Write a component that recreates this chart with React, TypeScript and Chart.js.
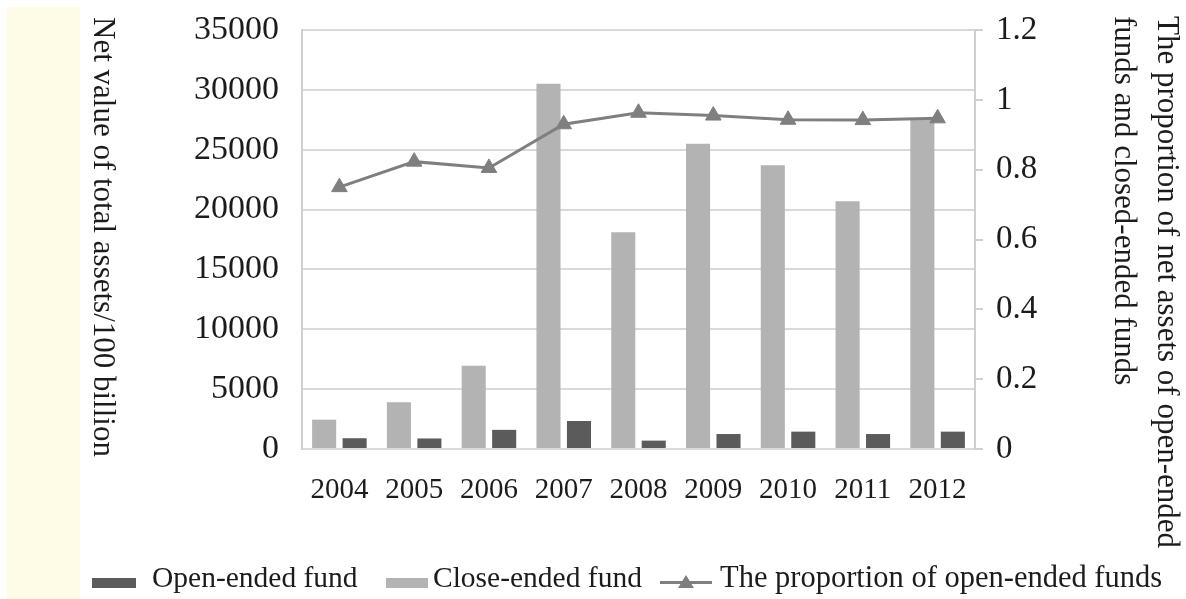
import React, { useEffect, useRef } from 'react';
import { Chart, registerables } from 'chart.js';

Chart.register(...registerables);

// Fund data by year
const years = ['2004', '2005', '2006', '2007', '2008', '2009', '2010', '2011', '2012'];
const openEndedFund = [900, 880, 1600, 2340, 700, 1250, 1450, 1250, 1450];
const closeEndedFund = [2450, 3900, 6950, 30500, 18100, 25500, 23700, 20700, 27500];
const openEndedShare = [0.75, 0.823, 0.805, 0.93, 0.963, 0.955, 0.943, 0.942, 0.947];

const SERIF = '"Liberation Serif", "Times New Roman", Times, serif';
const DARK = '#5b5b5b';
const LIGHT = '#b3b3b3';
const LINE = '#7f7f7f';
const GRID = '#d9d9d9';
const AXIS = '#cfcfcf';
const TEXT = '#1c1c1c';

const legendText: React.CSSProperties = {
  position: 'absolute',
  top: 563,
  fontFamily: SERIF,
  fontSize: 29.5,
  lineHeight: '29px',
  color: TEXT,
  whiteSpace: 'nowrap',
};

export default function App() {
  const canvasRef = useRef<HTMLCanvasElement>(null);

  useEffect(() => {
    const canvas = canvasRef.current;
    if (!canvas) return;
    const chart = new Chart(canvas, {
      type: 'bar',
      data: {
        labels: years,
        datasets: [
          {
            type: 'line',
            label: 'The proportion of open-ended funds',
            data: openEndedShare,
            yAxisID: 'y1',
            borderColor: LINE,
            backgroundColor: LINE,
            borderWidth: 3,
            pointStyle: 'triangle',
            pointRadius: 9,
            pointBorderWidth: 1,
            pointBackgroundColor: LINE,
            pointBorderColor: LINE,
            tension: 0,
          } as any,
          {
            label: 'Close-ended fund',
            data: closeEndedFund,
            backgroundColor: LIGHT,
            yAxisID: 'y',
            categoryPercentage: 0.815,
            barPercentage: 0.79,
          },
          {
            label: 'Open-ended fund',
            data: openEndedFund,
            backgroundColor: DARK,
            yAxisID: 'y',
            categoryPercentage: 0.815,
            barPercentage: 0.79,
          },
        ],
      },
      options: {
        responsive: false,
        animation: false,
        devicePixelRatio: 1,
        layout: { padding: { top: 30, left: 0, right: 0, bottom: 0 } },
        plugins: {
          legend: { display: false },
          tooltip: { enabled: false },
        },
        scales: {
          x: {
            grid: { display: false, drawTicks: false },
            border: { display: false },
            ticks: {
              padding: 24,
              color: TEXT,
              font: { family: SERIF, size: 29 },
            },
            afterFit: (s: any) => {
              s.height = 150;
            },
          },
          y: {
            position: 'left',
            min: 0,
            max: 35000,
            ticks: {
              stepSize: 5000,
              padding: 12,
              color: TEXT,
              font: { family: SERIF, size: 34, lineHeight: 1 },
              callback: (v: any) => String(v),
            },
            grid: {
              color: GRID,
              lineWidth: 2,
              drawTicks: true,
              tickLength: 11,
              tickColor: 'rgba(0,0,0,0)',
            },
            border: { color: AXIS, width: 2 },
            afterFit: (s: any) => {
              s.width = 302;
            },
          },
          y1: {
            position: 'right',
            min: 0,
            max: 1.2,
            ticks: {
              stepSize: 0.2,
              padding: 13,
              color: TEXT,
              font: { family: SERIF, size: 33, lineHeight: 1 },
              callback: (v: any) => String(Number(Number(v).toFixed(1))),
            },
            grid: { drawOnChartArea: false, drawTicks: true, tickLength: 8, color: AXIS, lineWidth: 2 },
            border: { color: AXIS, width: 2 },
            afterFit: (s: any) => {
              s.width = 211;
            },
          },
        },
      } as any,
    });
    return () => chart.destroy();
  }, []);

  return (
    <div
      style={{
        position: 'fixed',
        left: 0,
        top: 0,
        width: 1186,
        height: 599,
        background: '#ffffff',
        overflow: 'hidden',
      }}
    >
      <div
        style={{
          position: 'absolute',
          left: 7,
          top: 7,
          width: 73,
          height: 592,
          background: '#fefbe7',
        }}
      />
      <canvas
        ref={canvasRef}
        width={1186}
        height={599}
        style={{ position: 'absolute', left: 0, top: 0, width: 1186, height: 599 }}
      />
      {/* left axis title */}
      <div
        style={{
          position: 'absolute',
          left: 84,
          top: 17,
          width: 40,
          writingMode: 'vertical-rl',
          fontFamily: SERIF,
          fontSize: 31,
          lineHeight: '40px',
          color: TEXT,
          whiteSpace: 'nowrap',
        }}
      >
        Net value of total assets/100 billion
      </div>
      {/* right axis title */}
      <div
        style={{
          position: 'absolute',
          left: 1104,
          top: 16,
          width: 86,
          writingMode: 'vertical-rl',
          fontFamily: SERIF,
          fontSize: 31,
          lineHeight: '43px',
          color: TEXT,
          whiteSpace: 'nowrap',
        }}
      >
        The proportion of net assets of open-ended
        <br />
        funds and closed-ended funds
      </div>
      {/* legend */}
      <div style={{ position: 'absolute', left: 92, top: 578, width: 44, height: 10, background: DARK }} />
      <div style={{ ...legendText, left: 152 }}>Open-ended fund</div>
      <div style={{ position: 'absolute', left: 386, top: 578, width: 42, height: 10, background: LIGHT }} />
      <div style={{ ...legendText, left: 433 }}>Close-ended fund</div>
      <div style={{ position: 'absolute', left: 660, top: 581, width: 52, height: 3, background: LINE }} />
      <div
        style={{
          position: 'absolute',
          left: 678,
          top: 575,
          width: 0,
          height: 0,
          borderLeft: '8px solid transparent',
          borderRight: '8px solid transparent',
          borderBottom: '13px solid ' + LINE,
        }}
      />
      <div style={{ ...legendText, left: 720, fontSize: 30.5 }}>The proportion of open-ended funds</div>
    </div>
  );
}
